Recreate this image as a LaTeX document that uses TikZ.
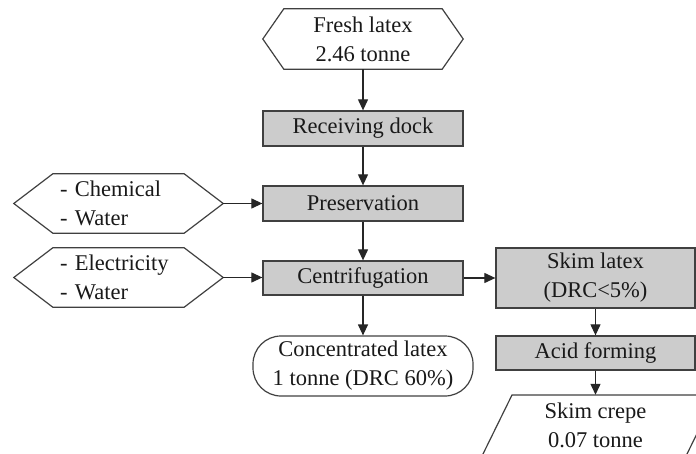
\documentclass[tikz,border=0pt]{standalone}
\usepackage{fontspec}
\setmainfont{Liberation Serif}
\usetikzlibrary{arrows.meta,calc}
\begin{document}
\begin{tikzpicture}[x=1pt,y=-1pt,
  every node/.style={font=\fontsize{22.5}{29}\selectfont, text=black!90, inner sep=0pt},
  procbox/.style={draw=black!75, fill=gray!40, line width=1.3pt, minimum height=#1},
  procbox/.default=35pt,
  hexnode/.style={minimum height=59pt},
  outline/.style={draw=black!75, line width=1.2pt, line join=miter},
  flow/.style={draw=black!85, line width=1.2pt, -{Triangle[length=11pt,width=10pt]}}]
\useasboundingbox (0,0) rectangle (696,454);
\clip (0,0) rectangle (696,454);

% nodes
\node[hexnode, minimum width=200pt, minimum height=60pt, align=center] (fresh) at (363,39) {Fresh latex\\2.46 tonne};
\node[procbox, minimum width=200pt] (recv) at (363,128.5) {Receiving dock};
\node[procbox, minimum width=200pt] (pres) at (363,203.5) {Preservation};
\node[procbox=34pt, minimum width=200pt] (cent) at (363,278) {Centrifugation};
\node[hexnode, text width=117pt, inner xsep=46pt, align=left] (chem) at (118.5,203.5) {- Chemical\\- Water};
\node[hexnode, text width=117pt, inner xsep=46pt, align=left] (elec) at (118.5,277.5) {- Electricity\\- Water};
\node[procbox=60pt, minimum width=199pt, align=center] (skim) at (595.5,278) {Skim latex\\(DRC<5\%)};
\node[procbox=34pt, minimum width=199pt] (acid) at (595.5,353) {Acid forming};
\node[draw=black!75, line width=1.2pt, rounded corners=28pt, minimum width=220pt, minimum height=60pt, align=center] (conc) at (363,366) {Concentrated latex\\1 tonne (DRC 60\%)};
\draw[outline, fill=white] (512,395) -- (716,395) -- (686,456) -- (482,456) -- cycle;
\node[minimum height=60pt, align=center] (crepe) at (595.5,425) {Skim crepe\\0.07 tonne};

% hexagon outlines
\foreach \n/\a in {fresh/21, chem/39, elec/39}{
  \draw[outline] (\n.west) -- ($(\n.north west)+(\a,0)$) -- ($(\n.north east)+(-\a,0)$)
    -- (\n.east) -- ($(\n.south east)+(-\a,0)$) -- ($(\n.south west)+(\a,0)$) -- cycle;
}

% connectors
\draw[flow] (fresh.south) -- (recv.north);
\draw[flow] (recv.south) -- (pres.north);
\draw[flow] (pres.south) -- (cent.north);
\draw[flow] (cent.south) -- (conc.north);
\draw[flow] (chem.east) -- (pres.west |- chem.east);
\draw[flow] (elec.east) -- (cent.west |- elec.east);
\draw[flow] (cent.east) -- (skim.west);
\draw[flow] (skim.south) -- (acid.north);
\draw[flow] (acid.south) -- (crepe.north);
\end{tikzpicture}
\end{document}
